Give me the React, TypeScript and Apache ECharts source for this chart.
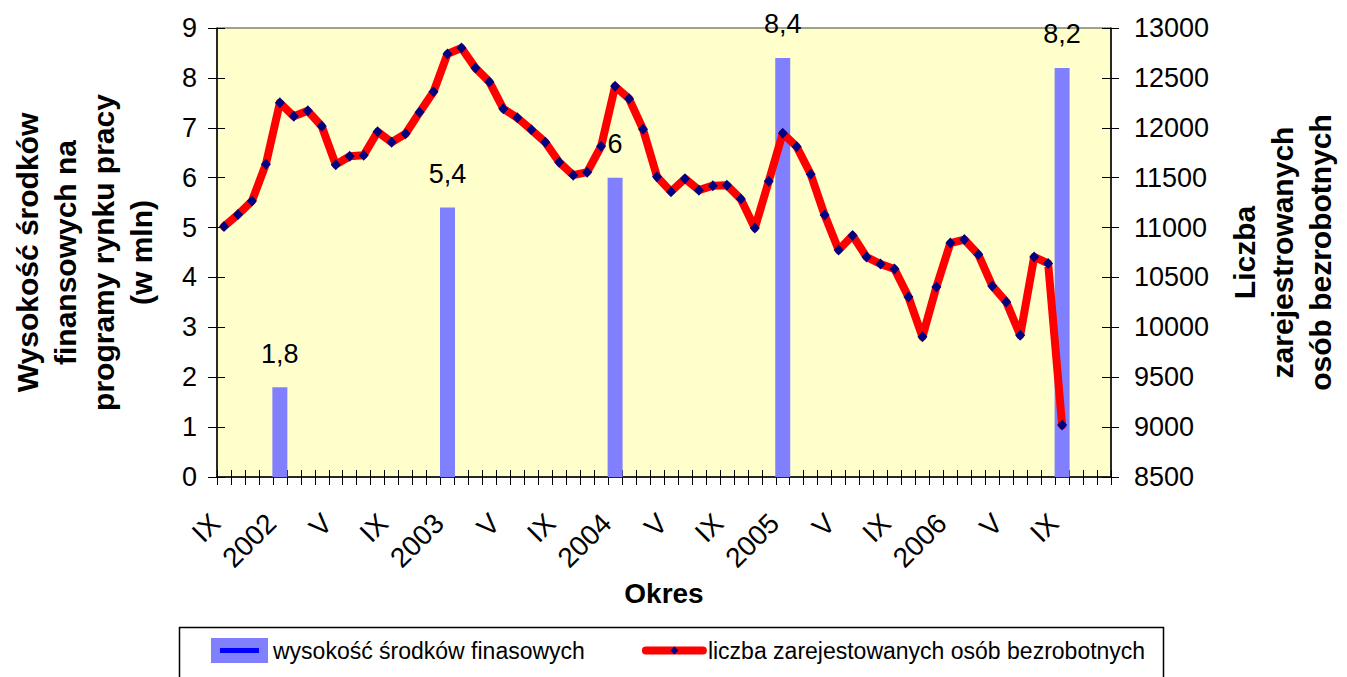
import React, { useEffect, useRef } from "react";
import * as echarts from "echarts";

const FONT = "'Liberation Sans', Arial, sans-serif";

// Monthly categories from IX 2001 to XII 2006 (January shown as the year)
const categories = [
  "IX", "X", "XI", "XII",
  "2002", "II", "III", "IV", "V", "VI", "VII", "VIII", "IX", "X", "XI", "XII",
  "2003", "II", "III", "IV", "V", "VI", "VII", "VIII", "IX", "X", "XI", "XII",
  "2004", "II", "III", "IV", "V", "VI", "VII", "VIII", "IX", "X", "XI", "XII",
  "2005", "II", "III", "IV", "V", "VI", "VII", "VIII", "IX", "X", "XI", "XII",
  "2006", "II", "III", "IV", "V", "VI", "VII", "VIII", "IX", "X", "XI", "XII",
];

// Funds for labour market programmes (mln)
const funds = [
  null, null, null, null,
  1.8, null, null, null, null, null, null, null, null, null, null, null,
  5.4, null, null, null, null, null, null, null, null, null, null, null,
  6, null, null, null, null, null, null, null, null, null, null, null,
  8.4, null, null, null, null, null, null, null, null, null, null, null,
  null, null, null, null, null, null, null, null, 8.2, null, null, null,
];

// Registered unemployed persons
const unemployed = [
  11010, 11130, 11265, 11635,
  12250, 12115, 12170, 12015, 11630, 11715, 11725, 11960, 11855, 11940, 12155, 12360,
  12740, 12800, 12600, 12460, 12190, 12100, 11980, 11855, 11655, 11525, 11555, 11815,
  12415, 12290, 11985, 11510, 11360, 11490, 11375, 11420, 11425, 11285, 10995, 11465,
  11945, 11810, 11535, 11125, 10775, 10920, 10705, 10635, 10585, 10305, 9905, 10405,
  10845, 10880, 10730, 10415, 10255, 9920, 10705, 10640, 9020,
];

const leftTicks = { min: 0, max: 9, interval: 1 };
const rightTicks = { min: 8500, max: 13000, interval: 500 };

const barName = "wysokość środków finasowych";
const lineName = "liczba zarejestowanych osób bezrobotnych";

export default function App() {
  const ref = useRef<HTMLDivElement>(null);

  useEffect(() => {
    document.body.style.margin = "0";
    if (!ref.current) return;
    const chart = echarts.init(ref.current, null, { renderer: "svg" });

    const baseText = { fontFamily: FONT, color: "#000" };

    const option: any = {
      animation: false,
      backgroundColor: "#fff",
      textStyle: { fontFamily: FONT },
      grid: {
        left: 212,
        right: 225,
        top: 28,
        bottom: 200,
        show: true,
        backgroundColor: "#FFFFCC",
        borderColor: "#404040",
        borderWidth: 1,
      },
      legend: {
        left: 211,
        top: 639,
        padding: 0,
        itemWidth: 57,
        itemHeight: 10,
        itemGap: 57,
        selectedMode: false,
        data: [barName, lineName],
        lineStyle: { width: 8, cap: "round", color: "#FF0000" },
        textStyle: { ...baseText, fontSize: 23, padding: [7, 0, 0, 0] },
      },
      xAxis: [
        {
          type: "category",
          data: categories,
          position: "bottom",
          boundaryGap: true,
          axisLine: { lineStyle: { color: "#000", width: 1.5 } },
          axisTick: { show: true, interval: 0, length: 8, lineStyle: { color: "#000" } },
          axisLabel: {
            ...baseText,
            interval: 3,
            rotate: 45,
            margin: 33,
            fontSize: 28,
            padding: [0, 12, 0, 0],
          },
          splitLine: { show: false },
          name: "Okres",
          nameLocation: "middle",
          nameGap: 101,
          nameTextStyle: { ...baseText, fontSize: 28, fontWeight: "bold" },
        },
        {
          type: "category",
          data: categories,
          position: "bottom",
          offset: 0,
          boundaryGap: true,
          axisLine: { show: false },
          axisTick: { show: true, inside: true, interval: 0, length: 7, lineStyle: { color: "#000" } },
          axisLabel: { show: false },
          splitLine: { show: false },
        },
      ],
      yAxis: [
        {
          type: "value",
          position: "left",
          ...leftTicks,
          axisLine: { show: true, lineStyle: { color: "#000", width: 1.5 } },
          axisTick: { show: true, length: 9, lineStyle: { color: "#000" } },
          axisLabel: { ...baseText, fontSize: 27, margin: 20 },
          splitLine: { show: false },
          name: "Wysokość środków\nfinansowych na\nprogramy rynku pracy\n(w mln)",
          nameLocation: "middle",
          nameRotate: 90,
          nameGap: 57,
          nameTextStyle: { ...baseText, fontSize: 30, fontWeight: "bold", lineHeight: 38, align: "center" },
        },
        {
          type: "value",
          position: "right",
          ...rightTicks,
          axisLine: { show: true, lineStyle: { color: "#000", width: 1.5 } },
          axisTick: { show: true, length: 8, lineStyle: { color: "#000" } },
          axisLabel: { ...baseText, fontSize: 27, margin: 23, formatter: (v: number) => String(v) },
          splitLine: { show: false },
          name: "Liczba\nzarejestrowanych\nosób bezrobotnych",
          nameLocation: "middle",
          nameRotate: 90,
          nameGap: 114,
          nameTextStyle: { ...baseText, fontSize: 30, fontWeight: "bold", lineHeight: 38, align: "center" },
        },
        {
          type: "value",
          position: "left",
          offset: 0,
          ...leftTicks,
          axisLine: { show: false },
          axisTick: { show: true, inside: true, length: 8, lineStyle: { color: "#000" } },
          axisLabel: { show: false },
          splitLine: { show: false },
        },
        {
          type: "value",
          position: "right",
          offset: 0,
          ...rightTicks,
          axisLine: { show: false },
          axisTick: { show: true, inside: true, length: 9, lineStyle: { color: "#000" } },
          axisLabel: { show: false },
          splitLine: { show: false },
        },
      ],
      series: [
        {
          name: barName,
          type: "bar",
          xAxisIndex: 0,
          yAxisIndex: 0,
          data: funds,
          barWidth: 15,
          itemStyle: { color: "#8080FF" },
          label: {
            show: true,
            position: "top",
            distance: 20,
            ...baseText,
            fontSize: 27,
            formatter: (p: any) => String(p.value).replace(".", ","),
          },
        },
        {
          name: lineName,
          type: "line",
          xAxisIndex: 0,
          yAxisIndex: 1,
          data: unemployed,
          symbol: "diamond",
          symbolSize: [10, 11],
          showAllSymbol: true,
          lineStyle: { color: "#FF0000", width: 8, cap: "round", join: "round" },
          itemStyle: { color: "#000080" },
          z: 3,
        },
      ],
      graphic: [
        {
          type: "rect",
          silent: true,
          z: 1,
          shape: { x: 179.5, y: 627.5, width: 984, height: 60 },
          style: { fill: "none", stroke: "#000", lineWidth: 1.5 },
        },
        {
          type: "rect",
          silent: true,
          z: 100,
          shape: { x: 211, y: 638, width: 57, height: 25 },
          style: { fill: "#8080FF" },
        },
        {
          type: "rect",
          silent: true,
          z: 101,
          shape: { x: 220, y: 648, width: 39, height: 5 },
          style: { fill: "#0000FF" },
        },
      ],
    };

    chart.setOption(option);
    return () => chart.dispose();
  }, []);

  return <div ref={ref} style={{ width: 1347, height: 677 }} />;
}
